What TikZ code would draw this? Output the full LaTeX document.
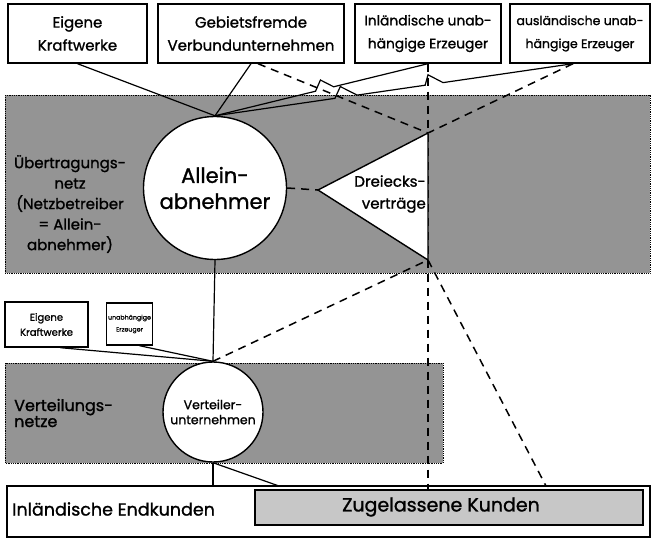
\documentclass[tikz,border=0pt]{standalone}
\usepackage{fontspec}
\setmainfont{Poppins}[FakeBold=1.2]
\usetikzlibrary{calc}
\newcommand\myfs[2]{\fontsize{#1}{#2}\selectfont}
\begin{document}
\begin{tikzpicture}[x=1pt,y=-1pt,
  box/.style={draw,line width=1.4pt,fill=white,inner sep=0pt,align=center},
  conn/.style={line width=1.2pt},
  dconn/.style={line width=1.5pt,dash pattern=on 8pt off 6pt},
  band/.style={fill=black!42,draw=black,densely dotted,line width=0.8pt},
  lbl/.style={inner sep=0pt,align=center},
]
\useasboundingbox (0,0) rectangle (653,538);

% shaded bands
\draw[band] (5,95) rectangle (650,273);
\draw[band] (5,363) rectangle (443,463);

% top boxes
\node[box,minimum width=139pt,minimum height=59pt,font=\myfs{15}{23}] (b1) at (77.5,33.5) {Eigene\\Kraftwerke};
\node[box,minimum width=186pt,minimum height=59pt,font=\myfs{15}{23}] (b2) at (251,33.5) {Gebietsfremde\\Verbundunternehmen};
\node[box,minimum width=146pt,minimum height=59pt,font=\myfs{13.8}{23}] (b3) at (428,33.5) {Inländische unab-\\hängige Erzeuger};
\node[box,minimum width=140pt,minimum height=59pt,font=\myfs{12.5}{23}] (b4) at (580,33.5) {ausländische unab-\\hängige Erzeuger};

% small boxes
\node[box,minimum width=83pt,minimum height=45pt,font=\myfs{10}{15}] (sa) at (46.5,324.5) {Eigene\\Kraftwerke};
\node[box,minimum width=46pt,minimum height=42pt,font=\myfs{6.3}{12}] (sb) at (129.5,324) {unabhängige\\Erzeuger};

% bottom boxes
\node[box,minimum width=643pt,minimum height=51pt] (ik) at (328.5,511.5) {};
\node[box,fill=black!22,minimum width=388pt,minimum height=35pt] (zk) at (449,507.5) {};
\node[lbl,anchor=west,font=\myfs{17.5}{20}] (ikt) at (12,509) {Inländische Endkunden};
\node[lbl,font=\myfs{19}{20}] (zkt) at (441,507) {Zugelassene Kunden};

% circles
\node[circle,draw,line width=1.4pt,fill=white,minimum size=143pt,inner sep=0pt,align=center,font=\myfs{21}{26}] (aa) at (215,188) {Allein-\\abnehmer};
\node[circle,draw,line width=1.4pt,fill=white,minimum size=100pt,inner sep=0pt,align=center,font=\myfs{12.5}{15}] (vu) at (213,412) {Verteiler-\\unternehmen};

% triangle corners
\coordinate (tl) at (318,190);
\coordinate (tt) at (428,133);
\coordinate (tb) at (428,260);
\coordinate (zend) at (279,486);
\coordinate (dend) at (546,486);

% dashed connectors
\draw[dconn] (b3.south) -- (b3.south |- zk.north);
\draw[dconn] ([xshift=7pt]b2.south) -- (tt);
\draw[dconn] ([xshift=-7pt]b4.south) -- (tt);
\draw[dconn] (aa.east) -- (tl);
\draw[dconn] (vu.north) -- (tb);
\draw[dconn] (tb) -- (dend);

% triangle
\draw[line width=1.4pt,fill=white,line join=miter] (tl) -- (tt) -- (tb) -- cycle;
\node[lbl,anchor=east,align=right,font=\myfs{15}{22}] (dv) at (426,194) {Dreiecks-\\verträge};

% solid connectors
\draw[conn] (b1.south) -- (aa.north);
\draw[conn] (b2.south) -- (aa.north);
\draw[conn] (b3.south) -- ($(b3.south)!0.443!(aa.north)$) -- ($(b3.south)!0.505!(aa.north)+(0,-10)$) -- ($(b3.south)!0.528!(aa.north)$) -- (aa.north);
\draw[conn] ([xshift=-7pt]b4.south) -- ($([xshift=-7pt]b4.south)!0.363!(aa.north)$) -- ($([xshift=-7pt]b4.south)!0.405!(aa.north)+(0,-10)$) -- ($([xshift=-7pt]b4.south)!0.413!(aa.north)$)
  -- ($([xshift=-7pt]b4.south)!0.603!(aa.north)$) -- ($([xshift=-7pt]b4.south)!0.650!(aa.north)+(0,-11)$) -- ($([xshift=-7pt]b4.south)!0.665!(aa.north)$) -- (aa.north);
\draw[conn] (aa.south) -- (vu.north);
\draw[conn] ([xshift=14pt]sa.south) -- (vu.north);
\draw[conn] ([xshift=10pt]sb.south) -- (vu.north);
\draw[conn] (vu.south) -- (vu.south |- ik.north);
\draw[conn] (vu.south) -- (zend);

% band labels
\node[lbl,font=\myfs{15}{20.5}] (ut) at (70,204) {Übertragungs-\\netz\\(Netzbetreiber\\= Allein-\\abnehmer)};
\node[lbl,anchor=west,align=left,font=\myfs{16}{16}] (vt) at (14,413) {Verteilungs-\\netze};
\end{tikzpicture}
\end{document}
